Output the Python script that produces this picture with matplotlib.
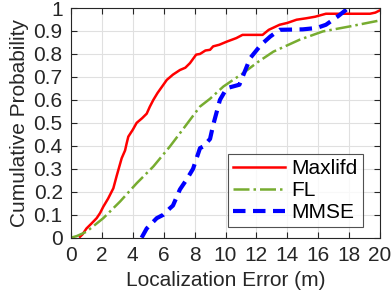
import matplotlib
matplotlib.use("Agg")
import matplotlib.pyplot as plt
import numpy as np

plt.rcParams['font.family'] = ['Liberation Sans', 'DejaVu Sans']

# Maxlifd
max_x = [0.58, 0.75, 1.0, 1.3, 1.66, 1.88, 2.09, 2.4, 2.74, 2.96, 3.28, 3.5, 3.6, 3.71, 4.0, 4.25, 4.6, 4.9, 5.1, 5.33, 5.6, 5.98, 6.2, 6.6, 7.05, 7.4, 7.7, 8.1, 8.35, 8.7, 9.0, 9.2, 9.6, 10.1, 10.7, 11.1, 11.5, 12.4, 12.8, 13.5, 14.0, 14.6, 15.2, 15.8, 16.5, 17.5, 18.5, 19.35, 19.7, 20.0]
max_y = [0.004, 0.015, 0.04, 0.06, 0.085, 0.107, 0.135, 0.17, 0.215, 0.27, 0.346, 0.38, 0.41, 0.44, 0.47, 0.50, 0.52, 0.54, 0.57, 0.60, 0.63, 0.666, 0.687, 0.71, 0.73, 0.74, 0.76, 0.797, 0.80, 0.815, 0.818, 0.833, 0.84, 0.854, 0.869, 0.883, 0.883, 0.883, 0.905, 0.927, 0.935, 0.949, 0.955, 0.962, 0.975, 0.975, 0.975, 0.975, 0.98, 0.99]

# FL
fl_x = [0.0, 0.37, 1.0, 2.09, 3.17, 4.25, 5.33, 6.4, 7.2, 8.35, 9.0, 9.86, 11.15, 12.1, 13.1, 14.8, 16.3, 18.06, 20.0]
fl_y = [0.0, 0.007, 0.026, 0.085, 0.157, 0.237, 0.31, 0.397, 0.468, 0.571, 0.605, 0.658, 0.717, 0.765, 0.81, 0.862, 0.898, 0.92, 0.946]

# MMSE
mm_x = [4.57, 4.9, 5.55, 5.98, 6.4, 6.6, 7.05, 7.5, 7.9, 8.35, 8.56, 9.0, 9.2, 9.64, 10.08, 10.9, 11.6, 12.3, 12.9, 13.5, 15.0, 15.9, 16.5, 17.3, 17.95]
mm_y = [0.0, 0.04, 0.085, 0.1, 0.128, 0.14, 0.21, 0.255, 0.30, 0.39, 0.397, 0.43, 0.49, 0.60, 0.651, 0.666, 0.782, 0.84, 0.876, 0.905, 0.907, 0.913, 0.927, 0.965, 1.0]

xticks = list(range(0, 21, 2))
yticks = [round(0.1 * i, 1) for i in range(11)]
ytick_labels = ['0', '0.1', '0.2', '0.3', '0.4', '0.5', '0.6', '0.7', '0.8', '0.9', '1']

fig = plt.figure(figsize=(3.91, 3.0), dpi=100)
ax = fig.add_axes([71/391, 1 - 237.7/300, (380-71)/391, (237.7-8)/300])

ax.plot(max_x, max_y, color='#ff0000', lw=1.8, ls='-', label='Maxlifd')
ax.plot(fl_x, fl_y, color='#77ac30', lw=1.8, ls='-.', label='FL')
ax.plot(mm_x, mm_y, color='#0000ff', lw=3.0, ls='--', dashes=(3, 1.8), label='MMSE')

ax.set_xlim(0, 20)
ax.set_ylim(0, 1)
ax.set_xticks(xticks)
ax.set_yticks(yticks)
ax.set_yticklabels(ytick_labels)
ax.grid(True, color='#e0e0e0', lw=0.8)
ax.set_axisbelow(True)
ax.tick_params(direction='in', top=True, right=True, labelsize=15, colors='#262626', length=4, pad=6)
for s in ax.spines.values():
    s.set_color('#262626')
    s.set_linewidth(0.8)
ax.set_xlabel('Localization Error (m)', fontsize=15, color='#262626', labelpad=4)
ax.set_ylabel('Cumulative Probability', fontsize=15, color='#262626', labelpad=3)

leg = ax.legend(loc='lower right', bbox_to_anchor=(0.945, 0.045), fontsize=15, frameon=True, fancybox=False,
                edgecolor='#262626', handlelength=2.5, borderpad=0.25, labelspacing=0.15, handletextpad=0.3, borderaxespad=0)
leg.get_frame().set_linewidth(0.8)

fig.savefig('out.png', dpi=100)
